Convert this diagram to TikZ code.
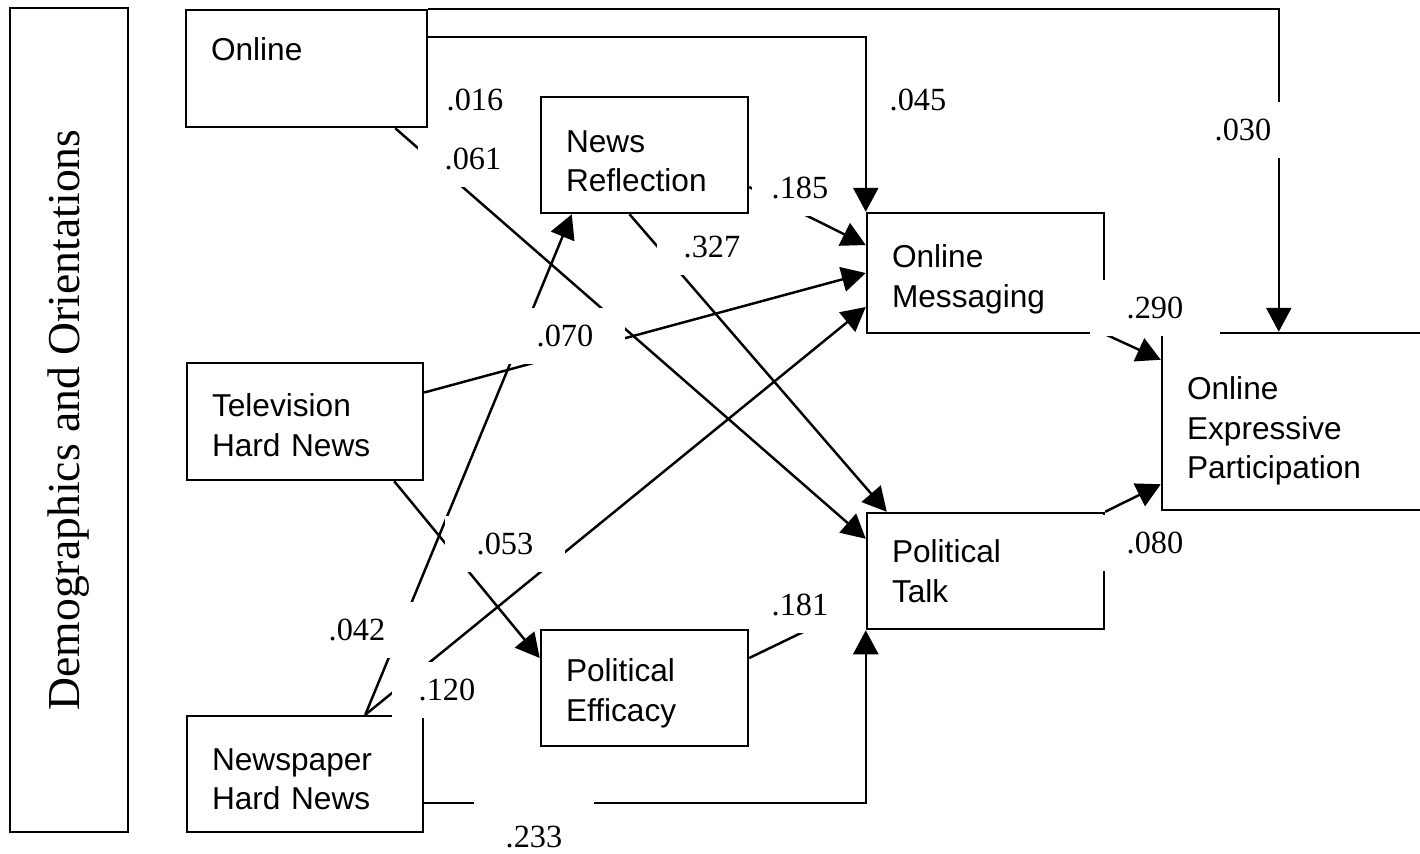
\documentclass[tikz,border=0pt]{standalone}
\usepackage{fontspec}
\setmainfont{Liberation Serif}
\setsansfont{Liberation Sans}
\usetikzlibrary{arrows.meta}

\begin{document}
\begin{tikzpicture}[line width=0.7pt, arrows={-Triangle[length=0.24cm,width=0.25cm]},
	var/.style={draw, inner xsep=0.25cm, align=left, font=\sffamily\fontsize{9}{11.3}\selectfont},
	coef/.style={fill=white, inner xsep=0.27cm, inner ysep=0.17cm, font=\fontsize{9.2}{11}\selectfont}]
	\useasboundingbox (0,0) rectangle (14.2,-8.53);
	\node[draw, rotate=90, minimum width=8.24cm, minimum height=1.18cm, font=\fontsize{13}{15}\selectfont] (demo) at (0.69,-4.20) {Demographics and Orientations};
	\node[var, text width=1.91cm, minimum height=1.17cm] (online) at (3.065,-0.685) {Online\\\mbox{}};
	\node[var, text width=1.86cm, minimum height=1.17cm] (tv) at (3.05,-4.215) {\rule{0pt}{0.30cm}Television\\Hard News};
	\node[var, text width=1.86cm, minimum height=1.16cm] (news) at (3.05,-7.74) {\rule{0pt}{0.32cm}Newspaper\\Hard News};
	\node[var, text width=1.57cm, minimum height=1.16cm] (nr) at (6.445,-1.55) {\rule{0pt}{0.34cm}News\\Reflection};
	\node[var, text width=1.57cm, minimum height=1.16cm] (pe) at (6.445,-6.88) {\rule{0pt}{0.34cm}Political\\Efficacy};
	\node[var, text width=1.87cm, minimum height=1.20cm] (om) at (9.855,-2.73) {\rule{0pt}{0.36cm}Online\\Messaging};
	\node[var, text width=1.87cm, minimum height=1.16cm] (pt) at (9.855,-5.71) {Political\\Talk};
	\node[var, text width=2.28cm, minimum height=1.77cm] (oep) at (13.01,-4.215) {\rule{0pt}{0.42cm}Online\\Expressive\\Participation};
	\coordinate (e181) at (8.30,-6.19);
	\draw (online.north east) -| ([xshift=1.18cm]oep.north west);
	\draw ([yshift=-0.28cm]online.north east) -| (om.north west);
	\draw ([xshift=-0.33cm]online.south east) to ([yshift=-0.27cm]pt.north west);
	\draw ([yshift=0.29cm]tv.east) to (om.west);
	\draw ([yshift=-0.32cm]nr.east) to ([yshift=0.28cm]om.west);
	\draw ([xshift=-0.15cm]nr.south) to ([xshift=0.21cm]pt.north west);
	\draw ([xshift=-0.30cm]tv.south east) to ([yshift=0.30cm]pe.west);
	\draw ([xshift=-0.59cm]news.north east) to ([xshift=0.32cm]nr.south west);
	\draw ([xshift=-0.59cm]news.north east) to ([yshift=-0.34cm]om.west);
	\draw[-] ([yshift=0.30cm]pe.east) to (e181);
	\draw ([yshift=-0.29cm]news.east) -| (pt.south west);
	\draw (om.south east) to ([yshift=-0.28cm]oep.north west);
	\draw (pt.north east) to ([yshift=0.27cm]oep.south west);
	% path coefficients
	\node[coef] (c030) at (12.43,-1.30) {.030};
	\node[coef, inner xsep=0.2cm] (c045) at (9.18,-1.00) {.045};
	\node[coef, inner xsep=0.18cm] (c016) at (4.75,-1.00) {.016};
	\node[coef] (c061) at (4.73,-1.59) {.061};
	\node[coef, inner xsep=0.2cm] (c185) at (8.00,-1.88) {.185};
	\node[coef] (c327) at (7.12,-2.47) {.327};
	\node[coef, inner xsep=0.32cm] (c070) at (5.65,-3.36) {.070};
	\node[coef, inner xsep=0.37cm] (c290) at (11.55,-3.08) {.290};
	\node[coef] (c080) at (11.55,-5.43) {.080};
	\node[coef, inner xsep=0.32cm] (c053) at (5.05,-5.44) {.053};
	\node[coef, inner xsep=0.22cm] (c181) at (8.00,-6.05) {.181};
	\node[coef, inner xsep=0.30cm] (c042) at (3.57,-6.30) {.042};
	\node[coef] (c120) at (4.47,-6.90) {.120};
	\node[coef, inner xsep=0.32cm, inner ysep=0.26cm] (c233) at (5.34,-8.37) {.233};
\end{tikzpicture}
\end{document}
